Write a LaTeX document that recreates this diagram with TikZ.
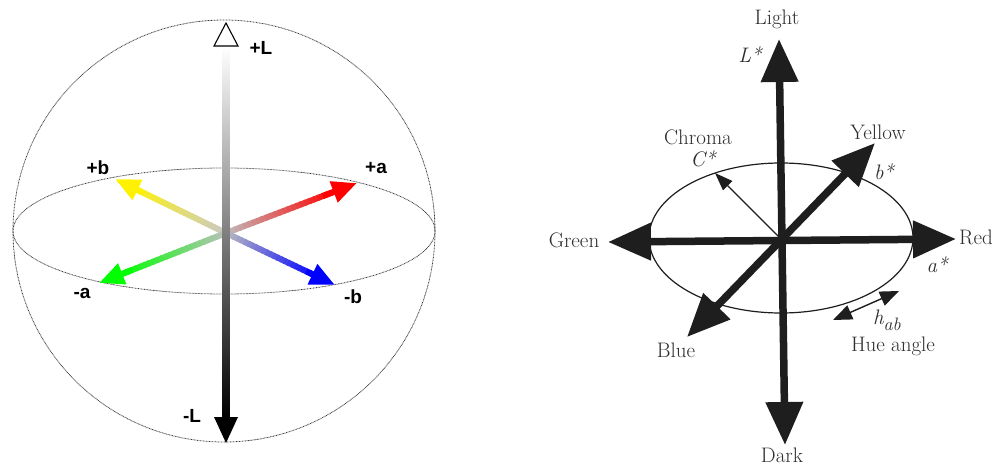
\documentclass[tikz,border=0pt]{standalone}
\usepackage{fontspec}
\newfontfamily\lsans{Liberation Sans}
\usetikzlibrary{arrows.meta,calc}
\definecolor{axisdark}{HTML}{1E1E1E}
\definecolor{labelgray}{HTML}{2E2E2E}
\definecolor{dotgray}{HTML}{3A3A3A}
\begin{document}
\begin{tikzpicture}[x=1pt,y=-1pt,
  sphereline/.style={dotgray,line width=0.8pt,dash pattern=on 0.8pt off 0.7pt},
  shaftseg/.style={line width=6pt},
  colhead/.style={line width=6pt,-{Triangle[length=25pt,width=21pt]}},
  lablab/.style={font=\lsans\bfseries\fontsize{19}{21}\selectfont,inner sep=0pt},
  serlab/.style={font=\fontsize{21}{23}\selectfont,text=labelgray,inner sep=0pt},
  itlab/.style={font=\itshape\fontsize{21}{23}\selectfont,text=labelgray,inner sep=0pt},
  bigaxis/.style={axisdark,line width=7.5pt,{Triangle[length=43pt,width=36pt]}-{Triangle[length=43pt,width=36pt]}},
  thinarrow/.style={axisdark,line width=1.2pt,-{Triangle[length=18pt,width=13pt]}},
  huearrow/.style={axisdark,line width=1.4pt,{Triangle[length=19pt,width=15pt]}-{Triangle[length=19pt,width=15pt]}}
]
\useasboundingbox[fill=white] (0,0) rectangle (995,465);

% ---------------- left: sphere ----------------
\coordinate (S) at (224,231);
\draw[sphereline] (S) circle[radius=211pt];
\draw[sphereline] (S) ellipse[x radius=211pt,y radius=63pt];

\coordinate (O) at (226,233);
\coordinate (Ytip) at (115,179);
\coordinate (Rtip) at (357,183);
\coordinate (Gtip) at (99,283);
\coordinate (Btip) at (335,285);

\foreach \tip/\col in {Ytip/yellow,Rtip/red,Gtip/green,Btip/blue}{
  \foreach \i in {0,...,23}{
    \pgfmathsetmacro\pa{\i/24*0.8}
    \pgfmathsetmacro\pb{(\i+1.4)/24*0.8}
    \pgfmathtruncatemacro\pc{5+\i*3.9}
    \draw[shaftseg,color=\col!\pc!lightgray] ($(O)!\pa!(\tip)$) -- ($(O)!\pb!(\tip)$);
  }
  \draw[colhead,\col] ($(O)!0.74!(\tip)$) -- (\tip);
}

% vertical L axis
\coordinate (Ltop) at (226,23);
\coordinate (Lbot) at (226,443);
\shade[top color=white,bottom color=black] (222.5,46) rectangle (229.5,418);
\draw[line width=1.1pt,fill=white] (214,46) -- (238,46) -- (Ltop) -- cycle;
\fill[black] (214,417) -- (238,417) -- (Lbot) -- cycle;

\node[lablab] (pL) at (261,48) {+L};
\node[lablab] (mL) at (192,416) {-L};
\node[lablab] (pb) at (98,168) {+b};
\node[lablab] (pa) at (376,168) {+a};
\node[lablab] (ma) at (82,293) {-a};
\node[lablab] (mb) at (353,297) {-b};

% ---------------- right: CIELAB ----------------
\coordinate (E) at (781,238);
\draw[axisdark,line width=1.2pt] (E) ellipse[x radius=132pt,y radius=75pt];

\coordinate (C) at (782,240);
\coordinate (LightTip) at (779,39);
\coordinate (DarkTip) at (785,445);
\coordinate (GreenTip) at (608,242);
\coordinate (RedTip) at (956,239);
\coordinate (YellowTip) at (875,143);
\coordinate (BlueTip) at (687,337);
\coordinate (ChromaTip) at (715,173);
\coordinate (H1) at (833,320);
\coordinate (H2) at (899,291);

\draw[bigaxis] (DarkTip) -- (LightTip);
\draw[bigaxis] (GreenTip) -- (RedTip);
\draw[bigaxis] (BlueTip) -- (YellowTip);
\draw[thinarrow] (C) -- (ChromaTip);
\draw[huearrow] (H1) -- (H2);

\node[serlab] (light) at (777,19) {Light};
\node[itlab] (lstar) at (750,55) {L*};
\node[serlab] (chroma) at (698,137) {Chroma};
\node[itlab] (cstar) at (703,159) {C*};
\node[serlab] (yellow) at (878,132) {Yellow};
\node[itlab] (bstar) at (884,172) {b*};
\node[serlab] (green) at (574,240) {Green};
\node[serlab] (red) at (976,237) {Red};
\node[itlab] (astar) at (937,265) {a*};
\node[itlab] (hab) at (887,320) {h\raisebox{-6pt}{\fontsize{18}{20}\selectfont ab}};
\node[serlab] (hue) at (893,346) {Hue angle};
\node[serlab] (blue) at (676,350) {Blue};
\node[serlab] (dark) at (782,455) {Dark};
\end{tikzpicture}
\end{document}
